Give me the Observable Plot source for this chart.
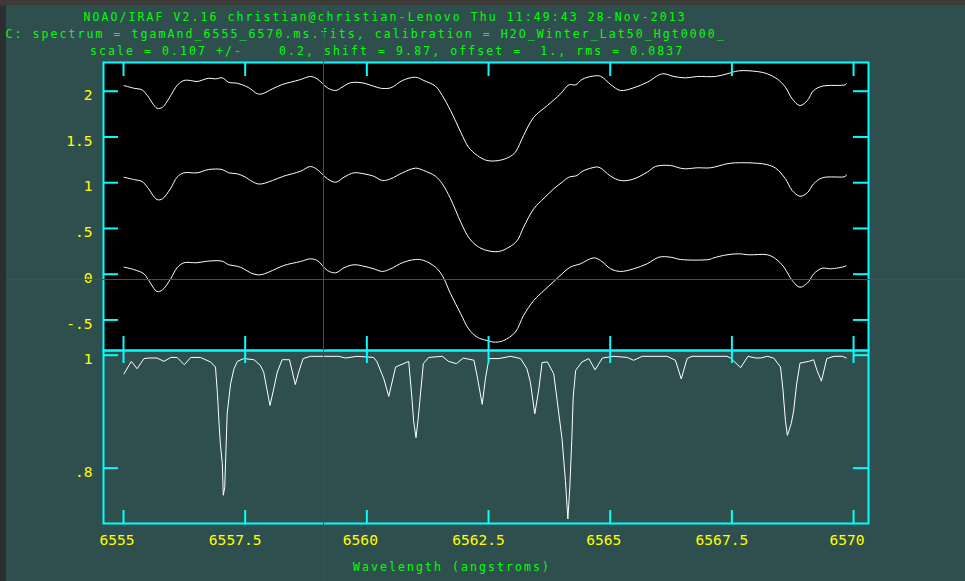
<!DOCTYPE html>
<html><head><meta charset="utf-8">
<script src="https://cdn.jsdelivr.net/npm/d3@7"></script>
<script src="https://cdn.jsdelivr.net/npm/@observablehq/plot@0.6"></script>
<style>
html,body{margin:0;padding:0;}
body{width:965px;height:581px;background:#2f4f4f;position:relative;overflow:hidden;}
.abs{position:absolute;left:0;}
</style></head><body>
<div style="position:absolute;left:0;top:0;width:965px;height:5px;background:#3c3b37"></div>
<div style="position:absolute;left:0;top:5px;width:6px;height:576px;background:#2c2e32"></div>
<div id="p1" class="abs" style="top:0"></div>
<div id="p2" class="abs" style="top:350px"></div>
<div id="txt" class="abs" style="top:0"></div>
<div style="position:absolute;left:323px;top:5px;width:1px;height:576px;background:#ff0000"></div>
<div style="position:absolute;left:6px;top:279px;width:959px;height:1px;background:#ff0000"></div>
<script>
// ---- text ----
const titleLines = [
  "NOAO/IRAF V2.16 christian@christian-Lenovo Thu 11:49:43 28-Nov-2013",
  "C: spectrum = tgamAnd_6555_6570.ms.fits, calibration = H2O_Winter_Lat50_Hgt0000_",
  "scale = 0.107 +/-    0.2, shift = 9.87, offset =  1., rms = 0.0837"
];
const xLabel = "Wavelength (angstroms)";

// ---- ticks ----
const xTicks = [6555, 6557.5, 6560, 6562.5, 6565, 6567.5, 6570];
const xTickLabels = ["6555", "6557.5", "6560", "6562.5", "6565", "6567.5", "6570"];
const yTicksTop = [2, 1.5, 1, 0.5, 0, -0.5];
const yTickLabelsTop = ["2", "1.5", "1", ".5", "0", "-.5"];
const yTicksBottom = [1, 0.8];
const yTickLabelsBottom = ["1", ".8"];

// ---- top panel spectra (offset by 1) ----
const wlA = [6555.01,6555.21,6555.38,6555.49,6555.69,6555.80,6555.97,6556.10,6556.24,6556.38,
  6556.51,6556.75,6556.89,6557.03,6557.16,6557.34,6557.51,6557.61,6557.75,6557.85,
  6558.06,6558.26,6558.43,6558.64,6558.84,6558.98,6559.19,6559.36,6559.49,6559.66,
  6559.90,6560.14,6560.28,6560.49,6560.73,6561.00,6561.17,6561.41,6561.55,6561.72,
  6561.93,6562.09,6562.27,6562.47,6562.71,6562.92,6563.05,6563.22,6563.43,6563.71,
  6563.98,6564.15,6564.29,6564.42,6564.63,6564.80,6565.01,6565.21,6565.48,6565.76,
  6566.07,6566.31,6566.55,6566.79,6567.16,6567.40,6567.64,6568.02,6568.23,6568.43,
  6568.60,6568.74,6568.90,6569.05,6569.18,6569.36,6569.83,6569.85];
const fluxA = [2.062,2.033,2.015,1.953,1.814,1.825,1.953,2.062,2.117,2.117,
  2.106,2.142,2.135,2.146,2.098,2.087,2.055,2.026,1.972,1.972,
  2.026,2.073,2.098,2.128,2.161,2.135,2.037,2.008,2.044,2.092,
  2.092,2.055,2.033,2.037,2.117,2.153,2.117,2.055,1.953,1.789,
  1.552,1.388,1.297,1.243,1.243,1.279,1.333,1.516,1.716,1.844,
  1.972,2.070,2.070,2.128,2.164,2.164,2.073,2.008,2.037,2.098,
  2.190,2.161,2.146,2.161,2.161,2.190,2.223,2.215,2.190,2.135,
  2.044,1.917,1.844,1.898,2.008,2.055,2.070,2.081];

const wlB = [6555.01,6555.21,6555.38,6555.49,6555.69,6555.80,6555.97,6556.10,6556.24,6556.51,
  6556.75,6557.03,6557.16,6557.34,6557.51,6557.61,6557.75,6557.85,6558.06,6558.29,
  6558.64,6558.84,6558.98,6559.19,6559.36,6559.53,6559.73,6559.94,6560.14,6560.32,
  6560.49,6560.73,6561.00,6561.17,6561.41,6561.55,6561.72,6561.93,6562.09,6562.27,
  6562.47,6562.71,6562.92,6563.09,6563.22,6563.43,6563.64,6563.84,6564.01,6564.15,
  6564.32,6564.42,6564.63,6564.77,6565.01,6565.21,6565.45,6565.76,6565.93,6566.24,
  6566.44,6566.55,6566.79,6567.06,6567.40,6567.57,6568.02,6568.23,6568.40,6568.60,
  6568.74,6568.90,6569.05,6569.18,6569.36,6569.83,6569.85];
const fluxB = [1.060,1.035,1.013,0.951,0.816,0.824,0.940,1.060,1.108,1.108,
  1.144,1.144,1.108,1.097,1.060,1.024,0.988,0.988,1.024,1.071,
  1.126,1.177,1.144,1.043,1.005,1.060,1.108,1.097,1.071,1.024,
  1.043,1.108,1.159,1.133,1.071,0.988,0.824,0.568,0.404,0.306,
  0.259,0.248,0.295,0.368,0.514,0.715,0.831,0.933,1.005,1.060,
  1.079,1.122,1.163,1.169,1.071,1.024,1.035,1.115,1.177,1.188,
  1.159,1.152,1.163,1.163,1.207,1.217,1.213,1.196,1.159,1.043,
  0.915,0.852,0.890,0.988,1.054,1.068,1.086];

const wlC = [6555.01,6555.21,6555.42,6555.52,6555.69,6555.80,6555.97,6556.10,6556.24,6556.51,
  6556.72,6557.03,6557.16,6557.34,6557.47,6557.61,6557.75,6557.85,6558.06,6558.29,
  6558.64,6558.84,6558.98,6559.19,6559.36,6559.53,6559.73,6559.94,6560.14,6560.32,
  6560.49,6560.73,6561.00,6561.17,6561.41,6561.55,6561.72,6561.93,6562.09,6562.27,
  6562.47,6562.64,6562.81,6563.05,6563.22,6563.43,6563.64,6563.84,6564.01,6564.18,
  6564.39,6564.66,6564.80,6565.01,6565.21,6565.48,6565.76,6566.00,6566.24,6566.44,
  6567.03,6567.13,6567.40,6567.64,6567.85,6568.23,6568.40,6568.57,6568.74,6568.90,
  6569.08,6569.18,6569.36,6569.53,6569.83,6569.85];
const fluxC = [0.077,0.051,0.004,-0.069,-0.189,-0.171,-0.050,0.070,0.125,0.125,
  0.142,0.142,0.103,0.087,0.059,0.015,-0.007,-0.003,0.040,0.095,
  0.139,0.168,0.150,0.040,0.015,0.070,0.103,0.087,0.059,0.030,
  0.059,0.125,0.161,0.150,0.077,-0.014,-0.214,-0.433,-0.597,-0.689,
  -0.725,-0.743,-0.725,-0.634,-0.451,-0.287,-0.178,-0.080,0.004,0.077,
  0.114,0.179,0.150,0.059,0.030,0.059,0.114,0.186,0.186,0.161,
  0.161,0.179,0.212,0.223,0.212,0.212,0.168,0.077,-0.069,-0.142,
  -0.080,0.004,0.066,0.059,0.087,0.095];

// ---- bottom panel: telluric calibration spectrum ----
const wlT = [6555.01,6555.16,6555.28,6555.42,6555.52,6555.69,6555.83,6555.97,6556.10,6556.25,
  6556.38,6556.58,6556.79,6556.89,6556.93,6556.96,6556.99,6557.03,6557.05,6557.08,
  6557.10,6557.13,6557.20,6557.27,6557.34,6557.47,6557.68,6557.81,6557.88,6557.95,
  6558.01,6558.08,6558.16,6558.26,6558.41,6558.53,6558.60,6558.69,6558.84,6559.12,
  6559.42,6559.56,6559.80,6560.14,6560.21,6560.35,6560.45,6560.59,6560.86,6560.93,
  6560.96,6561.01,6561.05,6561.09,6561.16,6561.27,6561.55,6561.68,6561.84,6561.98,
  6562.20,6562.27,6562.37,6562.44,6562.51,6562.71,6562.95,6563.16,6563.29,6563.36,
  6563.45,6563.53,6563.60,6563.71,6563.84,6563.91,6564.01,6564.08,6564.13,6564.17,
  6564.21,6564.24,6564.29,6564.42,6564.56,6564.69,6564.84,6565.07,6565.35,6565.48,
  6565.66,6566.17,6566.34,6566.46,6566.58,6566.68,6567.40,6567.47,6567.68,6567.83,
  6567.99,6568.09,6568.23,6568.36,6568.50,6568.55,6568.60,6568.64,6568.72,6568.77,
  6568.83,6568.90,6569.08,6569.18,6569.25,6569.34,6569.45,6569.60,6569.77,6569.85];
const fluxT = [0.967,0.989,0.976,0.994,0.995,0.995,0.989,0.996,0.996,0.983,
  0.996,0.996,0.988,0.979,0.932,0.884,0.843,0.808,0.752,0.766,
  0.819,0.896,0.949,0.976,0.989,0.994,0.992,0.982,0.970,0.938,
  0.911,0.938,0.970,0.992,0.992,0.948,0.970,0.994,0.998,0.998,
  0.998,0.995,0.998,0.996,0.988,0.958,0.927,0.979,0.989,0.920,
  0.884,0.854,0.884,0.920,0.985,0.996,0.998,0.989,0.985,0.995,
  0.991,0.961,0.913,0.961,0.994,0.994,0.998,0.994,0.976,0.952,
  0.896,0.938,0.987,0.988,0.967,0.920,0.852,0.778,0.710,0.766,
  0.849,0.926,0.973,0.988,0.994,0.974,0.995,0.998,0.996,0.991,
  0.998,0.998,0.991,0.958,0.994,0.998,0.998,0.995,0.978,0.998,
  0.995,0.995,0.998,0.995,0.979,0.938,0.884,0.858,0.879,0.902,
  0.949,0.986,0.989,0.992,0.973,0.954,0.994,0.998,0.998,0.995];

// ---- build tables ----
const spectra = [
  ...wlA.map((w, i) => ({w, f: fluxA[i], s: "A"})),
  ...wlB.map((w, i) => ({w, f: fluxB[i], s: "B"})),
  ...wlC.map((w, i) => ({w, f: fluxC[i], s: "C"}))
];
const telluric = wlT.map((w, i) => ({w, f: fluxT[i]}));

const CYAN = "#00ffff", YELLOW = "#ffff00", GREEN = "#00ff00";
const FONT = "DejaVu Sans Mono";
const W = 965, ML = 103, MR = 97;
const innerW = W - ML - MR;
const xDomain = [6554.589, 6570.307];

// ---- top panel ----
const H1 = 351, MT1 = 62, MB1 = 1, innerH1 = H1 - MT1 - MB1;
const p1 = Plot.plot({
  width: W, height: H1, marginLeft: ML, marginRight: MR, marginTop: MT1, marginBottom: MB1,
  style: {background: "transparent", overflow: "visible", fontFamily: FONT},
  x: {domain: xDomain, axis: null},
  y: {domain: [-0.834, 2.314], axis: null},
  marks: [
    Plot.frame({fill: "black", stroke: "none"}),
    Plot.line(spectra, {x: "w", y: "f", z: "s", stroke: "white", strokeWidth: 1, curve: "catmull-rom"}),
    Plot.ruleX(xTicks, {stroke: CYAN, strokeWidth: 2, insetBottom: innerH1 - 14}),
    Plot.ruleX(xTicks, {stroke: CYAN, strokeWidth: 2, insetTop: innerH1 - 14}),
    Plot.ruleY(yTicksTop, {stroke: CYAN, strokeWidth: 2, insetRight: innerW - 15}),
    Plot.ruleY(yTicksTop, {stroke: CYAN, strokeWidth: 2, insetLeft: innerW - 15}),
    Plot.text(yTicksTop, {y: d => d, text: (d, i) => yTickLabelsTop[i], frameAnchor: "left",
      textAnchor: "end", dx: -11, dy: 4, fill: YELLOW, fontSize: 14.6, fontFamily: FONT}),
    Plot.frame({stroke: CYAN, strokeWidth: 2})
  ]
});
document.getElementById("p1").appendChild(p1);

// ---- bottom panel ----
const H2 = 231, MT2 = 0, MB2 = 58, innerH2 = H2 - MT2 - MB2;
const short = xTicks.filter((d, i) => xTickLabels[i].length === 4);
const long = xTicks.filter((d, i) => xTickLabels[i].length !== 4);
const lab = d => xTickLabels[xTicks.indexOf(d)];
const p2 = Plot.plot({
  width: W, height: H2, marginLeft: ML, marginRight: MR, marginTop: MT2, marginBottom: MB2,
  style: {background: "transparent", overflow: "visible", fontFamily: FONT},
  x: {domain: xDomain, axis: null},
  y: {domain: [0.702, 1.0083], axis: null},
  marks: [
    Plot.line(telluric, {x: "w", y: "f", stroke: "white", strokeWidth: 1}),
    Plot.ruleX(xTicks, {stroke: CYAN, strokeWidth: 2, insetBottom: innerH2 - 13}),
    Plot.ruleX(xTicks, {stroke: CYAN, strokeWidth: 2, insetTop: innerH2 - 13}),
    Plot.ruleY(yTicksBottom, {stroke: CYAN, strokeWidth: 2, insetRight: innerW - 15}),
    Plot.ruleY(yTicksBottom, {stroke: CYAN, strokeWidth: 2, insetLeft: innerW - 15}),
    Plot.text(yTicksBottom, {y: d => d, text: (d, i) => yTickLabelsBottom[i], frameAnchor: "left",
      textAnchor: "end", dx: -11, dy: 4, fill: YELLOW, fontSize: 14.6, fontFamily: FONT}),
    Plot.text(short, {x: d => d, text: lab, frameAnchor: "bottom", dy: 21, dx: -6.5,
      fill: YELLOW, fontSize: 14.6, fontFamily: FONT}),
    Plot.text(long, {x: d => d, text: lab, frameAnchor: "bottom", dy: 21, dx: -10,
      fill: YELLOW, fontSize: 14.6, fontFamily: FONT}),
    Plot.frame({stroke: CYAN, strokeWidth: 2})
  ]
});
document.getElementById("p2").appendChild(p2);

// ---- title & axis label ----
const svg = d3.create("svg").attr("width", W).attr("height", 581)
  .style("display", "block").style("overflow", "visible");
const tl = [
  {t: titleLines[0], x: 83.5, y: 21},
  {t: titleLines[1], x: 5.5, y: 38},
  {t: titleLines[2], x: 90, y: 55},
  {t: xLabel, x: 353, y: 571}
];
svg.selectAll("text").data(tl).join("text")
  .attr("x", d => d.x).attr("y", d => d.y)
  .attr("fill", GREEN)
  .attr("font-family", FONT).attr("font-size", 11.5)
  .attr("letter-spacing", "2.08px")
  .style("white-space", "pre")
  .text(d => d.t);
document.getElementById("txt").appendChild(svg.node());
</script>
</body></html>
